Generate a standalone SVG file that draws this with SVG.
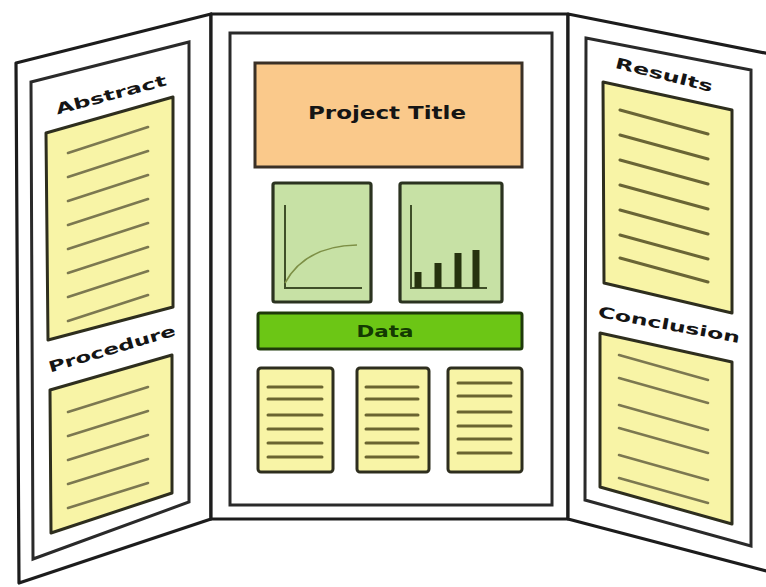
<svg xmlns="http://www.w3.org/2000/svg" width="766" height="587" viewBox="0 0 766 587">
<style>
.frame{fill:#ffffff;stroke:#1c1c1c;stroke-width:3.2;stroke-linejoin:round}
.inner{fill:none;stroke:#2a2a2a;stroke-width:3}
.paper{fill:#f8f4a6;stroke:#2e2e1e;stroke-width:3;stroke-linejoin:round}
.pline{stroke:#7c7850;stroke-width:2.6;stroke-linecap:round;fill:none}
.cline{stroke:#6a6430;stroke-width:3;stroke-linecap:round;fill:none}
.graph{fill:#c7e1a5;stroke:#2b3320;stroke-width:3.2}
.axis{stroke:#3f4f28;stroke-width:2;fill:none}
.bar{stroke:#26320e;stroke-width:7}
.lbl{font-family:"DejaVu Sans","Liberation Sans",sans-serif;font-weight:bold;fill:#151515;text-anchor:middle}
</style>

<g id="left-panel">
  <polygon class="frame" points="16,63 211,14 211,519 19,583"/>
  <polygon class="inner" points="31,82 189,42 189,502 33,559"/>
  <text class="lbl" font-size="15" transform="translate(111,95) rotate(-15)" y="5" textLength="114" lengthAdjust="spacingAndGlyphs">Abstract</text>
  <g id="abstract-box">
    <polygon class="paper" points="46,133 173,97 173,307 48,340"/>
    <path class="pline" d="M68,153L148,127M68,177L148,151M68,201L148,175M68,225L148,199M68,249L148,223M68,273L148,247M68,297L148,271M68,321L148,295"/>
  </g>
  <text class="lbl" font-size="15" transform="translate(112,349) rotate(-16.5)" y="5" textLength="132" lengthAdjust="spacingAndGlyphs">Procedure</text>
  <g id="procedure-box">
    <polygon class="paper" points="50,390 172,355 172,493 51,533"/>
    <path class="pline" d="M68,412L148,387M68,436L148,411M68,460L148,435M68,484L148,459M68,508L148,483"/>
  </g>
</g>

<g id="center-panel">
  <rect class="frame" x="211" y="14" width="357" height="505"/>
  <rect class="inner" x="230" y="33" width="322" height="472"/>
  <g id="project-title">
    <rect x="255" y="63" width="267" height="104" fill="#fac98b" stroke="#3a3026" stroke-width="3"/>
    <text class="lbl" font-size="17" x="387" y="119" textLength="158" lengthAdjust="spacingAndGlyphs">Project Title</text>
  </g>
  <g id="line-graph">
    <rect class="graph" x="273" y="183" width="98" height="119" rx="2"/>
    <path class="axis" d="M285,205V288H362"/>
    <path d="M285,283Q305,246 357,245" fill="none" stroke="#7d8f45" stroke-width="1.6"/>
  </g>
  <g id="bar-graph">
    <rect class="graph" x="400" y="183" width="102" height="119" rx="2"/>
    <path class="axis" d="M411,205V288H487"/>
    <path class="bar" d="M418,288V272M438,288V263M458,288V253M476,288V250"/>
  </g>
  <g id="data-bar">
    <rect x="258" y="313" width="264" height="36" fill="#6cc615" stroke="#1f3a0a" stroke-width="3" rx="2"/>
    <text class="lbl" font-size="15" x="385" y="337" fill="#133a02" style="fill:#133a02" textLength="57" lengthAdjust="spacingAndGlyphs">Data</text>
  </g>
  <g id="text-box-1">
    <rect class="paper" x="258" y="368" width="75" height="104" rx="3"/>
    <path class="cline" d="M268,387H322M268,399H322M268,415H322M268,429H322M268,443H322M268,457H322"/>
  </g>
  <g id="text-box-2">
    <rect class="paper" x="357" y="368" width="72" height="104" rx="3"/>
    <path class="cline" d="M366,387H418M366,399H418M366,415H418M366,429H418M366,443H418M366,457H418"/>
  </g>
  <g id="text-box-3">
    <rect class="paper" x="448" y="368" width="74" height="104" rx="3"/>
    <path class="cline" d="M458,383H511M458,396H511M458,412H511M458,426H511M458,439H511M458,453H511"/>
  </g>
</g>

<g id="right-panel">
  <polygon class="frame" points="568,14 770,54 770,572 568,519"/>
  <polygon class="inner" points="586,38 751,70 751,546 585,500"/>
  <text class="lbl" font-size="15" transform="translate(664,75) rotate(14)" y="5" textLength="100" lengthAdjust="spacingAndGlyphs">Results</text>
  <g id="results-box">
    <polygon class="paper" points="603,82 732,110 732,313 604,283"/>
    <path class="pline" style="stroke:#6a6535;stroke-width:3" d="M620,110L708,134M620,135L708,159M620,160L708,184M620,185L708,209M620,210L708,234M620,235L708,259M620,258L708,282"/>
  </g>
  <text class="lbl" font-size="15" transform="translate(669,325) rotate(10.5)" y="5" textLength="144" lengthAdjust="spacingAndGlyphs">Conclusion</text>
  <g id="conclusion-box">
    <polygon class="paper" points="600,333 732,362 732,524 600,487"/>
    <path class="pline" d="M619,355L708,380M619,378L708,403M619,405L708,430M619,428L708,453M619,455L708,480M619,478L708,503"/>
  </g>
</g>
</svg>
